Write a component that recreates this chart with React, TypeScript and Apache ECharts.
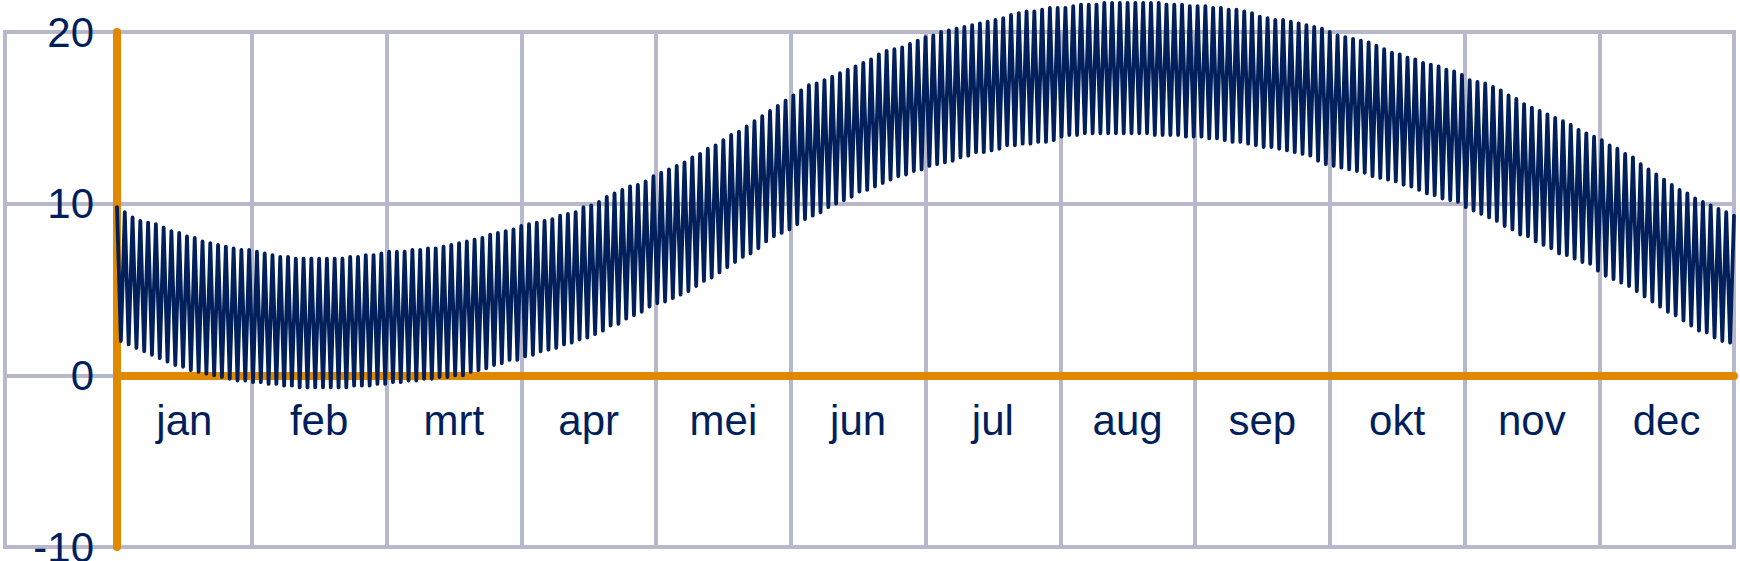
import React, { useEffect, useRef } from "react";
import * as echarts from "echarts";

const months = ["jan", "feb", "mrt", "apr", "mei", "jun", "jul", "aug", "sep", "okt", "nov", "dec"];
const yMin = -10;
const yMax = 20;
const yStep = 10;

// successive highs of the zigzag
const highs = [
  9.8, 9.5, 9.2, 9.0, 8.9, 8.8, 8.6, 8.4, 8.3, 8.1,
  8.0, 7.8, 7.7, 7.6, 7.5, 7.4, 7.3, 7.3, 7.2, 7.1,
  7.0, 6.9, 6.9, 6.8, 6.8, 6.8, 6.8, 6.8, 6.8, 6.8,
  6.9, 6.9, 7.0, 7.0, 7.1, 7.2, 7.2, 7.2, 7.3, 7.3,
  7.4, 7.4, 7.5, 7.6, 7.7, 7.8, 7.9, 8.0, 8.2, 8.3,
  8.4, 8.5, 8.7, 8.8, 8.9, 9.0, 9.1, 9.3, 9.4, 9.5,
  9.8, 9.9, 10.1, 10.4, 10.6, 10.8, 11.0, 11.1, 11.3, 11.6,
  11.8, 12.0, 12.2, 12.4, 12.7, 12.9, 13.2, 13.4, 13.7, 14.0,
  14.2, 14.5, 14.8, 15.1, 15.4, 15.7, 16.0, 16.3, 16.6, 16.9,
  17.0, 17.2, 17.4, 17.6, 17.8, 18.0, 18.2, 18.4, 18.7, 18.9,
  19.0, 19.1, 19.3, 19.5, 19.7, 19.8, 20.0, 20.1, 20.2, 20.3,
  20.4, 20.5, 20.6, 20.7, 20.8, 21.0, 21.1, 21.2, 21.2, 21.3,
  21.4, 21.4, 21.4, 21.5, 21.6, 21.6, 21.6, 21.7, 21.7, 21.7,
  21.7, 21.7, 21.7, 21.7, 21.7, 21.6, 21.6, 21.6, 21.5, 21.5,
  21.5, 21.4, 21.4, 21.3, 21.3, 21.2, 21.1, 20.9, 20.8, 20.7,
  20.7, 20.6, 20.5, 20.4, 20.3, 20.2, 20.0, 19.8, 19.7, 19.6,
  19.5, 19.4, 19.2, 19.0, 18.8, 18.7, 18.5, 18.4, 18.2, 18.1,
  18.0, 17.8, 17.7, 17.5, 17.2, 17.1, 17.0, 16.8, 16.6, 16.3,
  16.1, 15.8, 15.6, 15.4, 15.2, 15.0, 14.8, 14.6, 14.3, 14.1,
  13.9, 13.7, 13.4, 13.2, 12.9, 12.7, 12.3, 12.0, 11.7, 11.4,
  11.1, 10.8, 10.6, 10.3, 10.1, 9.9, 9.7, 9.5, 9.3,
];

// successive lows of the zigzag
const lows = [
  2.0, 1.8, 1.6, 1.4, 1.2, 1.0, 0.8, 0.6, 0.5, 0.3,
  0.2, 0.1, 0.0, -0.1, -0.2, -0.3, -0.3, -0.4, -0.4, -0.5,
  -0.5, -0.6, -0.6, -0.7, -0.7, -0.7, -0.7, -0.7, -0.7, -0.7,
  -0.6, -0.6, -0.6, -0.5, -0.5, -0.4, -0.4, -0.3, -0.3, -0.2,
  -0.2, -0.1, -0.1, 0.0, 0.0, 0.2, 0.3, 0.4, 0.6, 0.7,
  0.9, 0.9, 1.1, 1.2, 1.4, 1.5, 1.6, 1.8, 1.9, 2.1,
  2.2, 2.4, 2.6, 2.9, 3.0, 3.3, 3.5, 3.7, 4.0, 4.2,
  4.3, 4.5, 4.7, 4.9, 5.2, 5.5, 5.7, 6.0, 6.3, 6.6,
  6.9, 7.1, 7.4, 7.8, 8.1, 8.3, 8.5, 8.8, 9.1, 9.3,
  9.5, 9.8, 10.0, 10.2, 10.4, 10.7, 10.8, 11.0, 11.2, 11.4,
  11.6, 11.7, 11.9, 12.0, 12.2, 12.3, 12.4, 12.5, 12.7, 12.8,
  13.0, 13.0, 13.1, 13.2, 13.4, 13.4, 13.5, 13.5, 13.6, 13.6,
  13.7, 13.9, 14.0, 14.0, 14.1, 14.1, 14.1, 14.1, 14.1, 14.1,
  14.1, 14.1, 14.1, 14.0, 14.0, 14.0, 14.0, 13.9, 13.9, 13.9,
  13.8, 13.8, 13.7, 13.6, 13.6, 13.5, 13.4, 13.3, 13.3, 13.2,
  13.1, 13.0, 12.9, 12.8, 12.5, 12.3, 12.2, 12.1, 12.0, 11.9,
  11.8, 11.6, 11.5, 11.4, 11.3, 11.1, 11.0, 10.8, 10.6, 10.5,
  10.3, 10.2, 10.1, 9.8, 9.6, 9.4, 9.2, 9.0, 8.7, 8.5,
  8.2, 8.1, 7.8, 7.6, 7.4, 7.1, 7.0, 6.8, 6.6, 6.5,
  6.1, 5.8, 5.6, 5.4, 5.2, 4.9, 4.6, 4.3, 4.0, 3.7,
  3.5, 3.2, 2.9, 2.6, 2.5, 2.2, 2.0, 1.9,
];

const NAVY = "#001f5b";
const ORANGE = "#e08900";
const GRID = "#b8b8cc";
const FONT = "Liberation Sans, Arial, sans-serif";

export default function App() {
  const ref = useRef<HTMLDivElement>(null);

  useEffect(() => {
    if (!ref.current) return;
    const chart = echarts.init(ref.current, undefined, { renderer: "svg" });

    const points: [number, number][] = [];
    for (let i = 0; i < highs.length; i++) {
      points.push([points.length, highs[i]]);
      if (i < lows.length) points.push([points.length, lows[i]]);
    }
    const lastIndex = points.length - 1;

    // distance from the bottom of the zero line so the month axis sits on it
    const top = 32;
    const bottom = 14;
    const plotH = 561 - top - bottom;
    const zeroFromBottom = bottom + (plotH * (0 - yMin)) / (yMax - yMin);

    chart.setOption({
      animation: false,
      backgroundColor: "#ffffff",
      grid: [
        {
          left: 5,
          right: 6,
          top,
          bottom,
          show: true,
          borderColor: GRID,
          borderWidth: 4,
          backgroundColor: "transparent",
          containLabel: false,
          outerBoundsMode: "none",
        },
        { left: 117, right: 6, top, bottom, containLabel: false, outerBoundsMode: "none" },
        {
          left: 117,
          right: 6,
          top,
          bottom: zeroFromBottom,
          containLabel: false,
          outerBoundsMode: "none",
        },
      ],
      xAxis: [
        { gridIndex: 0, type: "value", min: 0, max: 1, show: false },
        {
          gridIndex: 1,
          type: "category",
          data: months,
          boundaryGap: true,
          z: 0.5,
          axisLine: { show: false },
          axisTick: { show: false },
          axisLabel: { show: false },
          splitLine: {
            show: true,
            interval: 0,
            lineStyle: { color: GRID, width: 4 },
          },
        },
        {
          gridIndex: 1,
          type: "value",
          min: 0,
          max: lastIndex,
          show: false,
        },
        {
          gridIndex: 2,
          type: "category",
          data: months,
          boundaryGap: true,
          position: "bottom",
          z: 1,
          axisLine: {
            show: true,
            onZero: false,
            lineStyle: { color: ORANGE, width: 8, cap: "round" },
          },
          axisTick: { show: false },
          axisLabel: {
            color: NAVY,
            fontSize: 42,
            fontFamily: FONT,
            margin: 24,
            interval: 0,
          },
          splitLine: { show: false },
        },
      ],
      yAxis: [
        {
          gridIndex: 0,
          type: "value",
          min: yMin,
          max: yMax,
          interval: yStep,
          axisLine: { show: false },
          axisTick: { show: false },
          axisLabel: { show: false },
          splitLine: { show: true, lineStyle: { color: GRID, width: 4 } },
        },
        {
          gridIndex: 1,
          type: "value",
          min: yMin,
          max: yMax,
          interval: yStep,
          z: 1.5,
          axisLine: {
            show: true,
            onZero: false,
            lineStyle: { color: ORANGE, width: 8, cap: "round" },
          },
          axisTick: { show: false },
          axisLabel: {
            color: NAVY,
            fontSize: 42,
            fontFamily: FONT,
            margin: 23,
            padding: [12, 0, 0, 0],
          },
          splitLine: { show: false },
        },
        {
          gridIndex: 2,
          type: "value",
          min: 0,
          max: yMax,
          show: false,
        },
      ],
      series: [
        {
          type: "line",
          xAxisIndex: 2,
          yAxisIndex: 1,
          data: points,
          clip: false,
          showSymbol: false,
          smooth: false,
          z: 3,
          lineStyle: { color: NAVY, width: 3.8, cap: "round", join: "round" },
        },
      ],
    });

    return () => chart.dispose();
  }, []);

  return (
    <div
      ref={ref}
      style={{ position: "absolute", left: 0, top: 0, width: 1740, height: 561 }}
    />
  );
}
